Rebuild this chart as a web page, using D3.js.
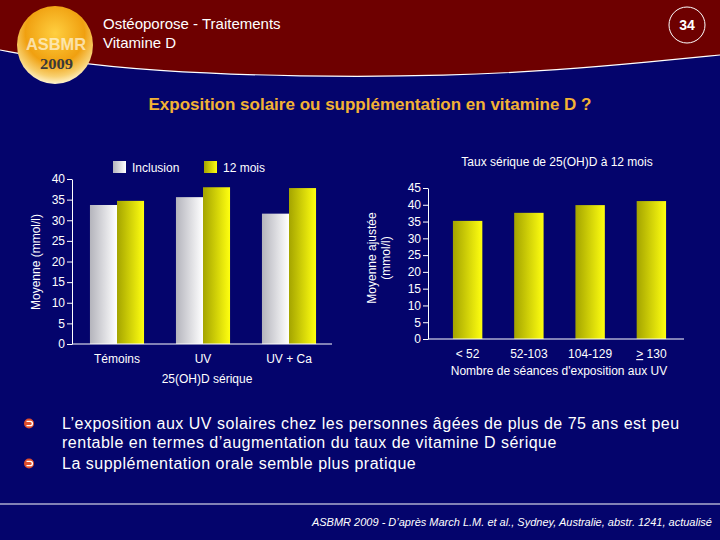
<!DOCTYPE html>
<html>
  <head>
    <meta charset="utf-8">
    <title>Exposition solaire ou supplémentation en vitamine D ?</title>
    <style>
      body { margin: 0; background: #04046c; }
      text { font-family: "Liberation Sans", Arial, sans-serif; fill: #fff; }
      .axis path, .axis line { stroke: #fff; }
      .axis text { font-size: 12px; fill: #fff; }
    </style>
  </head>

  <body>
    <script src="https://d3js.org/d3.v7.min.js"></script>
    <script>

var width = 720,
    height = 540;

// left chart : 25(OH)D sérique by group
var groups = ["Témoins", "UV", "UV + Ca"],
    series = ["Inclusion", "12 mois"],
    inclusion = [33.7, 35.6, 31.6],
    douzeMois = [34.7, 38.0, 37.8],
    leftTicks = [0, 5, 10, 15, 20, 25, 30, 35, 40];

// right chart : serum level at 12 months by number of UV sessions
var sessions = ["< 52", "52-103", "104-129", "130"],
    adjusted = [35.2, 37.6, 39.9, 41.1],
    rightTicks = [0, 5, 10, 15, 20, 25, 30, 35, 40, 45];

var bullets = [
  ["L\u2019exposition aux UV solaires chez les personnes âgées de plus de 75 ans est peu",
   "rentable en termes d\u2019augmentation du taux de vitamine D sérique"],
  ["La supplémentation orale semble plus pratique"]
];

var svg = d3.select("body").append("svg")
    .attr("width", width)
    .attr("height", height);

var defs = svg.append("defs");

function hgrad(id, from, to) {
  var g = defs.append("linearGradient").attr("id", id)
      .attr("x1", 0).attr("x2", 1).attr("y1", 0).attr("y2", 0);
  g.append("stop").attr("offset", "0%").attr("stop-color", from);
  g.append("stop").attr("offset", "100%").attr("stop-color", to);
}
hgrad("gWhite", "#b4b4bc", "#ffffff");
hgrad("gYellow", "#a4a400", "#ffff10");

var logo = defs.append("radialGradient").attr("id", "gLogo")
    .attr("cx", "50%").attr("cy", "35%").attr("r", "65%");
logo.append("stop").attr("offset", "0%").attr("stop-color", "#ffcf40");
logo.append("stop").attr("offset", "60%").attr("stop-color", "#f0a010");
logo.append("stop").attr("offset", "85%").attr("stop-color", "#f8d070");
logo.append("stop").attr("offset", "100%").attr("stop-color", "#fff4d0");

// background + header band
svg.append("rect").attr("width", width).attr("height", height).attr("fill", "#04046c");

var wave = [[0, 50], [60, 61], [150, 71], [300, 77], [450, 76], [560, 70], [650, 62], [720, 55]];
var waveLine = d3.line().curve(d3.curveBasis);
svg.append("path")
    .attr("d", "M0,0L720,0L" + waveLine(wave.slice().reverse()).slice(1) + "Z")
    .attr("fill", "#6e0000");
svg.append("path")
    .attr("d", waveLine(wave))
    .attr("fill", "none")
    .attr("stroke", "#fff")
    .attr("stroke-width", 1.2);

// logo
svg.append("ellipse").attr("cx", 55).attr("cy", 45).attr("rx", 38).attr("ry", 39)
    .attr("fill", "url(#gLogo)");
svg.append("text").attr("x", 26).attr("y", 50)
    .attr("textLength", 60).attr("lengthAdjust", "spacingAndGlyphs")
    .style("font-size", "17px").style("font-weight", "bold")
    .style("fill", "#fff8e0").style("opacity", 0.7)
    .text("ASBMR");
svg.append("text").attr("x", 40).attr("y", 69)
    .attr("textLength", 33).attr("lengthAdjust", "spacingAndGlyphs")
    .style("font-family", "'Liberation Serif', serif")
    .style("font-size", "15px").style("font-weight", "bold")
    .style("fill", "#3a3a3a")
    .text("2009");

svg.append("text").attr("x", 103).attr("y", 29).style("font-size", "15px").text("Ostéoporose - Traitements");
svg.append("text").attr("x", 103).attr("y", 48).style("font-size", "15px").text("Vitamine D");

svg.append("circle").attr("cx", 687).attr("cy", 25).attr("r", 18)
    .attr("fill", "none").attr("stroke", "#fff").attr("stroke-width", 1);
svg.append("text").attr("x", 687).attr("y", 30).attr("text-anchor", "middle")
    .style("font-size", "14px").style("font-weight", "bold").text("34");

svg.append("text").attr("x", 370).attr("y", 110).attr("text-anchor", "middle")
    .style("font-size", "17px").style("font-weight", "bold").style("fill", "#f2b234")
    .text("Exposition solaire ou supplémentation en vitamine D ?");

// ---------- left chart ----------
var y1 = d3.scaleLinear().domain([0, 40]).range([344, 179]);
var x0 = d3.scaleBand().domain(groups).range([74, 332]);
var xs = d3.scaleBand().domain(series).range([0, x0.bandwidth()]).paddingOuter(0.59);
var fills = { "Inclusion": "url(#gWhite)", "12 mois": "url(#gYellow)" };

var left = svg.append("g");
var rows = groups.map(function (g, i) {
  return { group: g, values: [{ s: "Inclusion", v: inclusion[i] }, { s: "12 mois", v: douzeMois[i] }] };
});

left.selectAll("g.grp")
  .data(rows)
  .enter().append("g")
    .attr("class", "grp")
    .attr("transform", function (d) { return "translate(" + x0(d.group) + ",0)"; })
  .selectAll("rect")
  .data(function (d) { return d.values; })
  .enter().append("rect")
    .attr("x", function (d) { return xs(d.s); })
    .attr("width", xs.bandwidth())
    .attr("y", function (d) { return y1(d.v); })
    .attr("height", function (d) { return y1(0) - y1(d.v); })
    .attr("fill", function (d) { return fills[d.s]; });

left.append("g").attr("class", "axis")
    .attr("transform", "translate(72,0)")
    .call(d3.axisLeft(y1).tickValues(leftTicks).tickSize(5).tickSizeOuter(0).tickPadding(2));
left.append("line").attr("x1", 72).attr("x2", 332).attr("y1", y1(0)).attr("y2", y1(0))
    .attr("stroke", "#fff");

left.selectAll("text.cat")
  .data(groups)
  .enter().append("text")
    .attr("class", "cat")
    .attr("x", function (d) { return x0(d) + x0.bandwidth() / 2; })
    .attr("y", 363)
    .attr("text-anchor", "middle")
    .style("font-size", "12px")
    .text(function (d) { return d; });

left.append("text").attr("x", 207).attr("y", 383).attr("text-anchor", "middle")
    .style("font-size", "12px").text("25(OH)D sérique");

left.append("text")
    .attr("transform", "translate(40,262) rotate(-90)")
    .attr("text-anchor", "middle")
    .style("font-size", "12px")
    .text("Moyenne (mmol/l)");

// legend
var leg = left.selectAll("g.leg")
  .data(series)
  .enter().append("g")
    .attr("class", "leg")
    .attr("transform", function (d, i) { return "translate(" + (113 + i * 91) + ",161)"; });
leg.append("rect").attr("width", 13).attr("height", 12)
    .attr("fill", function (d) { return fills[d]; });
leg.append("text").attr("x", 19).attr("y", 10.5).style("font-size", "12px")
    .text(function (d) { return d; });

// ---------- right chart ----------
var y2 = d3.scaleLinear().domain([0, 45]).range([339, 188]);
var x2 = d3.scaleBand().domain(sessions).range([437, 682]).paddingInner(0.52).paddingOuter(0.26);

var right = svg.append("g");
right.selectAll("rect")
  .data(adjusted)
  .enter().append("rect")
    .attr("x", function (d, i) { return x2(sessions[i]); })
    .attr("width", x2.bandwidth())
    .attr("y", function (d) { return y2(d); })
    .attr("height", function (d) { return y2(0) - y2(d); })
    .attr("fill", "url(#gYellow)");

right.append("g").attr("class", "axis")
    .attr("transform", "translate(428,0)")
    .call(d3.axisLeft(y2).tickValues(rightTicks).tickSize(5).tickSizeOuter(0).tickPadding(2));
right.append("line").attr("x1", 428).attr("x2", 684).attr("y1", y2(0)).attr("y2", y2(0))
    .attr("stroke", "#fff");

var cat2 = right.selectAll("text.cat")
  .data(sessions)
  .enter().append("text")
    .attr("class", "cat")
    .attr("x", function (d) { return x2(d) + x2.bandwidth() / 2; })
    .attr("y", 358)
    .attr("text-anchor", "middle")
    .style("font-size", "12px");
cat2.each(function (d, i) {
  var t = d3.select(this);
  if (i === sessions.length - 1) {
    t.append("tspan").style("text-decoration", "underline").text(">");
    t.append("tspan").text(" " + d);
  } else {
    t.text(d);
  }
});

right.append("text").attr("x", 559).attr("y", 375).attr("text-anchor", "middle")
    .style("font-size", "12px").text("Nombre de séances d'exposition aux UV");
right.append("text").attr("x", 557).attr("y", 166).attr("text-anchor", "middle")
    .style("font-size", "12px").text("Taux sérique de 25(OH)D à 12 mois");

right.append("text")
    .attr("transform", "translate(376,258) rotate(-90)")
    .attr("text-anchor", "middle")
    .style("font-size", "12px")
    .text("Moyenne ajustée");
right.append("text")
    .attr("transform", "translate(390,258) rotate(-90)")
    .attr("text-anchor", "middle")
    .style("font-size", "12px")
    .text("(mmol/l)");

// ---------- bullets ----------
var lineY = 429;
bullets.forEach(function (b) {
  // wingdings-like circled arrow
  var mk = svg.append("g").attr("transform", "translate(29," + (lineY - 5.5) + ")");
  mk.append("circle").attr("r", 5).attr("fill", "#e0502c");
  mk.append("path").attr("d", "M-2.5,-2.2H1.2A2.2,2.2 0 0 1 1.2,2.2H-2.5")
      .attr("fill", "none").attr("stroke", "#fff").attr("stroke-width", 1.3);
  b.forEach(function (line) {
    svg.append("text").attr("x", 62).attr("y", lineY)
        .style("font-size", "16px").style("letter-spacing", "0.5px")
        .text(line);
    lineY += 19;
  });
  lineY += 2;
});

// footer
svg.append("line").attr("x1", 0).attr("x2", 720).attr("y1", 504).attr("y2", 504)
    .attr("stroke", "#fff").attr("stroke-width", 1.2);
svg.append("text").attr("x", 712).attr("y", 526).attr("text-anchor", "end")
    .style("font-size", "11px").style("font-style", "italic")
    .text("ASBMR 2009 - D\u2019après March L.M. et al., Sydney, Australie, abstr. 1241, actualisé");

    </script>
  </body>
</html>
